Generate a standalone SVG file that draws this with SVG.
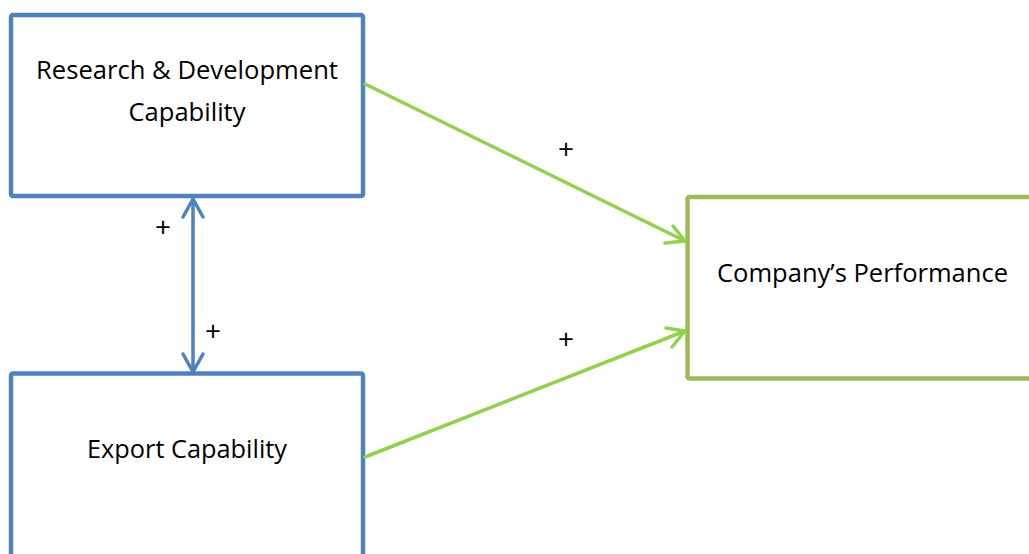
<svg xmlns="http://www.w3.org/2000/svg" width="1029" height="554" viewBox="0 0 1029 554">
<defs>
<style>
.blue{fill:#fff;stroke:#4F81BD;stroke-width:4.5}
.green{fill:#fff;stroke:#9BBB59;stroke-width:4.5}
.t{font-family:"Open Sans","Noto Sans",sans-serif;font-size:25px;fill:#000;text-anchor:middle}
.p{font-family:"Open Sans","Noto Sans",sans-serif;font-size:28px;fill:#000;text-anchor:middle}
.cb{stroke:#4F81BD;stroke-width:3.5;fill:none;stroke-linecap:round;stroke-linejoin:round}
.cg{stroke:#92D050;stroke-width:3.5;fill:none;stroke-linecap:round;stroke-linejoin:round}
</style>
</defs>
<g id="rd">
<rect class="blue" x="11" y="15" width="352" height="181" rx="2"/>
<text class="t" x="187" y="79" textLength="302" lengthAdjust="spacingAndGlyphs">Research &amp; Development</text>
<text class="t" x="187" y="121" textLength="117" lengthAdjust="spacingAndGlyphs">Capability</text>
</g>
<g id="export">
<rect class="blue" x="11" y="373.5" width="352" height="200" rx="2"/>
<text class="t" x="187" y="458" textLength="200" lengthAdjust="spacingAndGlyphs">Export Capability</text>
</g>
<g id="perf">
<rect class="green" x="687.5" y="197" width="360" height="181.5" rx="2"/>
<text class="t" x="862.5" y="282" textLength="291" lengthAdjust="spacingAndGlyphs">Company’s Performance</text>
</g>
<g id="connectors">
<line class="cb" x1="193" y1="199" x2="193" y2="372"/>
<polyline class="cb" points="183,217 193,199 203,217"/>
<polyline class="cb" points="183,354 193,372 203,354"/>
<line class="cg" x1="365" y1="84" x2="685" y2="241"/>
<polyline class="cg" points="673,226 685,241 665,243"/>
<line class="cg" x1="365" y1="457" x2="685" y2="331"/>
<polyline class="cg" points="666,328 685,331 672,347"/>
</g>
<g id="labels">
<text class="p" x="163" y="237">+</text>
<text class="p" x="213" y="341">+</text>
<text class="p" x="566" y="159">+</text>
<text class="p" x="566" y="349">+</text>
</g>
</svg>
